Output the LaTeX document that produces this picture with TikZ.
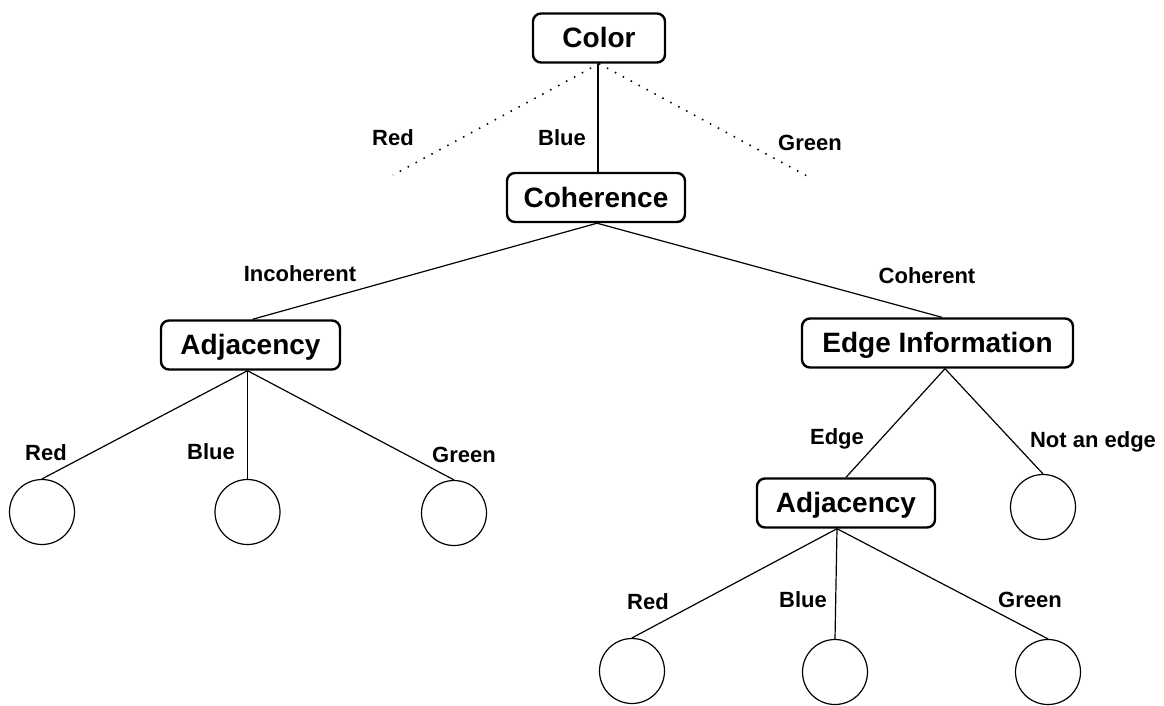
\documentclass[tikz,border=0pt]{standalone}
\usepackage{fontspec}
\setmainfont{Liberation Sans}
\begin{document}
\begin{tikzpicture}[x=1pt,y=-1pt,
  box/.style={draw, line width=2.4pt, rounded corners=8pt, minimum height=49pt,
    font=\fontsize{28}{30}\selectfont\bfseries, inner sep=0pt, text height=19.5pt, text depth=0pt},
  leaf/.style={draw, circle, line width=1.2pt, minimum size=65pt, inner sep=0pt},
  lbl/.style={font=\fontsize{22}{24}\selectfont\bfseries, inner sep=0pt, text height=15.8pt, text depth=0pt},
  edge/.style={line width=1.2pt},
  dots/.style={line width=1.6pt, dash pattern=on 1.5pt off 7.5pt}]
\useasboundingbox (0,0) rectangle (1164,705);

% decision nodes
\node[box, minimum width=132pt] (color) at (599,38) {Color};
\node[box, minimum width=178pt] (coh) at (596,197.5) {Coherence};
\node[box, minimum width=179pt] (adj1) at (250.5,345) {Adjacency};
\node[box, minimum width=271pt] (ei) at (937.5,343) {Edge Information};
\node[box, minimum width=178pt] (adj2) at (846,503) {Adjacency};

% leaves
\node[leaf] (c1) at (42,512) {};
\node[leaf] (c2) at (247.5,512) {};
\node[leaf] (c3) at (454,513) {};
\node[leaf] (c4) at (1043,507) {};
\node[leaf] (c5) at (632,671) {};
\node[leaf] (c6) at (835,672) {};
\node[leaf] (c7) at (1048,672) {};

% free ends of dotted branches
\coordinate (redend) at (393,175);
\coordinate (greenend) at (807,176);

% connectors
\draw[dots] (color.south) -- (redend);
\draw[dots] (color.south) -- (greenend);
\draw[edge] ([xshift=-1pt]color.south) -- ([xshift=-1pt]color.south |- coh.north);

\draw[edge] ([xshift=1pt]coh.south) -- ([xshift=2pt]adj1.north);
\draw[edge] ([xshift=1pt]coh.south) -- ([xshift=4.5pt]ei.north);

\draw[edge] ([xshift=-3pt]adj1.south) -- (c1.north);
\draw[edge] ([xshift=-3pt]adj1.south) -- (c2.north);
\draw[edge] ([xshift=-3pt]adj1.south) -- (c3.north);

\draw[edge] ([xshift=7.5pt]ei.south) -- (adj2.north);
\draw[edge] ([xshift=7.5pt]ei.south) -- (c4.north);

\draw[edge] ([xshift=-9pt]adj2.south) -- (c5.north);
\draw[edge] ([xshift=-9pt]adj2.south) -- (c6.north);
\draw[edge] ([xshift=-9pt]adj2.south) -- (c7.north);

% labels
\node[lbl] (t1) at (393,138) {Red};
\node[lbl] (t2) at (562,138) {Blue};
\node[lbl] (t3) at (810,143) {Green};
\node[lbl] (t4) at (300,274) {Incoherent};
\node[lbl] (t5) at (927,276) {Coherent};
\node[lbl] (t6) at (46,453) {Red};
\node[lbl] (t7) at (211,452) {Blue};
\node[lbl] (t8) at (464,455) {Green};
\node[lbl] (t9) at (837,437) {Edge};
\node[lbl] (t10) at (1093,440) {Not an edge};
\node[lbl] (t11) at (648,602) {Red};
\node[lbl] (t12) at (803,600) {Blue};
\node[lbl] (t13) at (1030,600) {Green};
\end{tikzpicture}
\end{document}
